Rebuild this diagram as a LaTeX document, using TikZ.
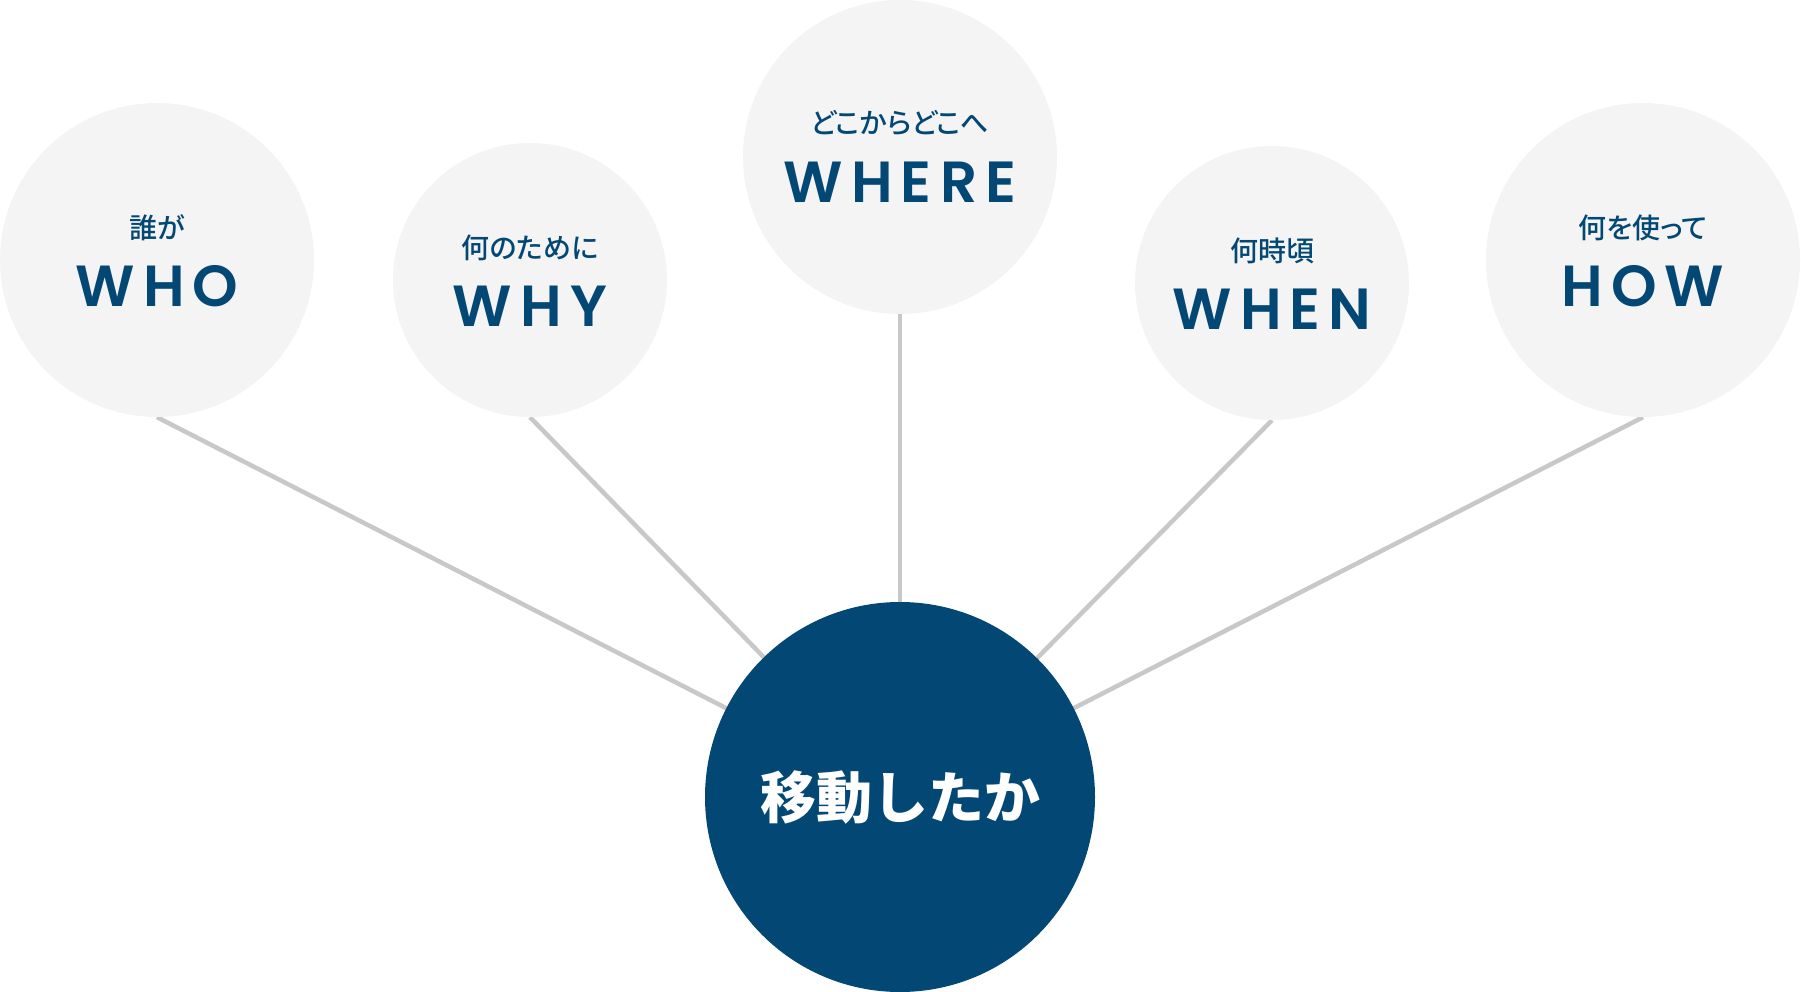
\documentclass[tikz,border=0pt]{standalone}
\usepackage{fontspec}
\newfontfamily\jpfont[RawFeature=+palt]{Noto Sans CJK JP Medium}
\newfontfamily\jpboldfont{Noto Sans CJK JP}
\newfontfamily\capsfont[LetterSpace=14, BoldFont={Poppins SemiBold}]{Poppins}
\usetikzlibrary{backgrounds}
\definecolor{navy}{HTML}{034875}
\definecolor{bubblegray}{HTML}{F4F4F4}
\definecolor{spokegray}{HTML}{C8C8C8}
\tikzset{
  qbubble/.style={circle, fill=bubblegray, inner sep=0pt, minimum size=#1},
  hubcircle/.style={circle, fill=navy, inner sep=0pt, minimum size=390pt,
    text=white, font=\jpboldfont\bfseries\fontsize{56}{60}\selectfont},
  jplabel/.style={inner sep=0pt, text=navy, font=\jpfont\fontsize{28}{30}\selectfont},
  capslabel/.style={inner sep=0pt, text=navy, font=\capsfont\bfseries\fontsize{58}{60}\selectfont},
  spokeline/.style={draw=spokegray, line width=4.5pt}
}
\begin{document}
\begin{tikzpicture}[x=1pt,y=-1pt]
\useasboundingbox (0,0) rectangle (1801,992);
\node[qbubble=314pt] (who)   at (157,260) {};
\node[qbubble=274pt] (why)   at (530,280) {};
\node[qbubble=314pt] (where) at (900,157) {};
\node[qbubble=274pt] (when)  at (1272,283) {};
\node[qbubble=314pt] (how)   at (1643,260) {};
\node[hubcircle] (hub) at (900,797) {移動したか};

\node[jplabel]   (whoj)   at (157,228) {誰が};
\node[capslabel] (whoc)   at (157,286) {WHO};
\node[jplabel]   (whyj)   at (530,248) {何のために};
\node[capslabel] (whyc)   at (530,306) {WHY};
\node[jplabel]   (wherej) at (900,123) {どこからどこへ};
\node[capslabel] (wherec) at (900,182) {WHERE};
\node[jplabel]   (whenj)  at (1272,251) {何時頃};
\node[capslabel] (whenc)  at (1272,309) {WHEN};
\node[jplabel]   (howj)   at (1643,228) {何を使って};
\node[capslabel] (howc)   at (1643,286) {HOW};

\begin{scope}[on background layer]
\draw[spokeline] (who.south) -- (hub.center);
\draw[spokeline] (why.south) -- (hub.center);
\draw[spokeline] (where.south) -- (hub.center);
\draw[spokeline] (when.south) -- (hub.center);
\draw[spokeline] (how.south) -- (hub.center);
\end{scope}
\end{tikzpicture}
\end{document}
